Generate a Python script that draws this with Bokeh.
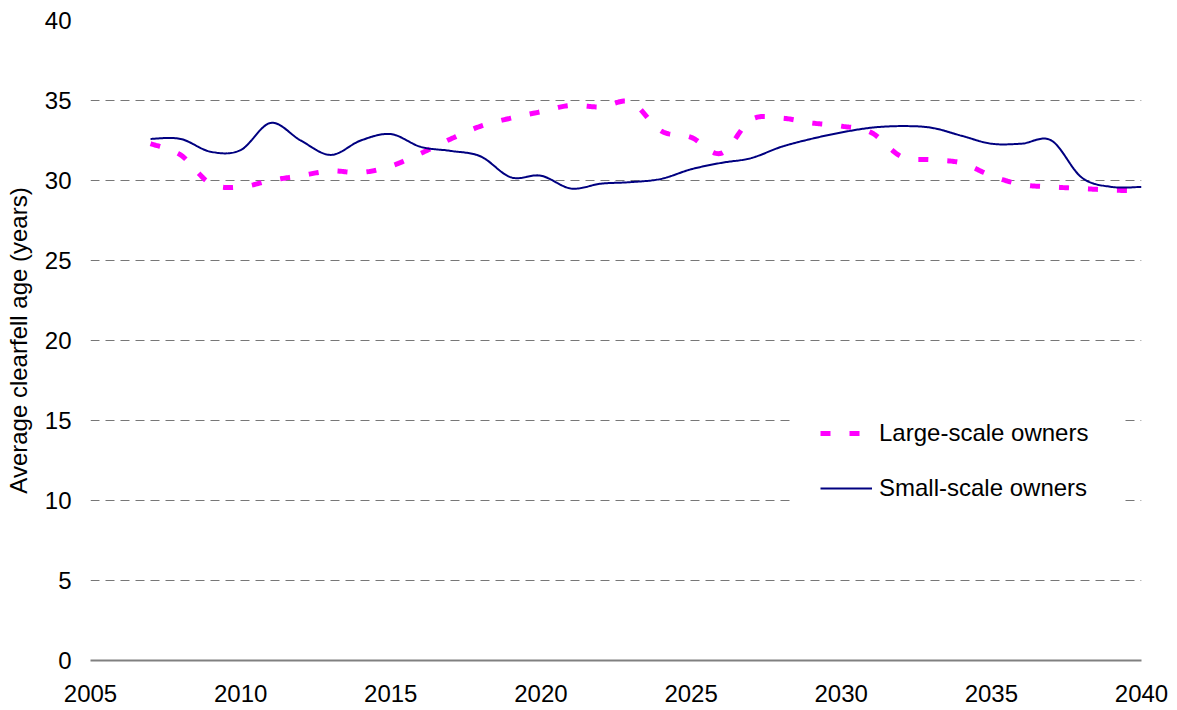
import numpy as np
from bokeh.plotting import figure
from bokeh.models import Range1d, FixedTicker, Legend, LegendItem, BoxAnnotation
from bokeh.embed import file_html
from bokeh.resources import INLINE

years = list(range(2007, 2041))
large_scale = [32.3, 31.6, 29.8, 29.6, 30.0, 30.3, 30.6, 30.5, 30.9, 31.7,
               32.6, 33.4, 33.9, 34.3, 34.7, 34.6, 34.9, 33.1, 32.7, 31.7,
               33.8, 33.9, 33.6, 33.4, 33.0, 31.5, 31.3, 31.1, 30.3, 29.75,
               29.6, 29.5, 29.4, 29.35]
small_scale = [32.6, 32.6, 31.8, 31.9, 33.6, 32.5, 31.6, 32.5, 32.9, 32.1,
               31.85, 31.5, 30.2, 30.3, 29.5, 29.8, 29.9, 30.1, 30.7, 31.1,
               31.4, 32.1, 32.6, 33.0, 33.3, 33.4, 33.3, 32.8, 32.3, 32.3,
               32.5, 30.2, 29.6, 29.6]
x_ticks = [2005, 2010, 2015, 2020, 2025, 2030, 2035, 2040]
y_ticks = [0, 5, 10, 15, 20, 25, 30, 35, 40]

FONT = "Liberation Sans"
FS = "24px"


def smooth(xs, ys, n=24):
    """Catmull-Rom rendering of a smoothed line (like a spreadsheet's smooth line)."""
    xs = np.asarray(xs, float)
    ys = np.asarray(ys, float)
    px = np.concatenate([[xs[0]], xs, [xs[-1]]])
    py = np.concatenate([[ys[0]], ys, [ys[-1]]])
    ox, oy = [], []
    t = np.linspace(0, 1, n, endpoint=False)
    for i in range(1, len(px) - 2):
        for arr, out in ((px, ox), (py, oy)):
            p0, p1, p2, p3 = arr[i - 1], arr[i], arr[i + 1], arr[i + 2]
            out.extend(0.5 * ((2 * p1) + (-p0 + p2) * t
                              + (2 * p0 - 5 * p1 + 4 * p2 - p3) * t ** 2
                              + (-p0 + 3 * p1 - 3 * p2 + p3) * t ** 3))
    ox.append(xs[-1])
    oy.append(ys[-1])
    return ox, oy


p = figure(width=1172, height=705, output_backend="svg", toolbar_location=None,
           x_range=Range1d(2005, 2040), y_range=Range1d(0, 40),
           min_border_left=90, min_border_right=31, min_border_top=20,
           min_border_bottom=45)
p.outline_line_color = None
p.background_fill_color = "white"
p.border_fill_color = "white"

lx, ly = smooth(years, large_scale)
sx, sy = smooth(years, small_scale)
r_large = p.line(lx, ly, line_color="#FF00FF", line_width=5, line_dash="10 19")
r_small = p.line(sx, sy, line_color="#000080", line_width=2)

p.xgrid.grid_line_color = None
p.ygrid.grid_line_color = "#777777"
p.ygrid.grid_line_dash = "9 6"
p.ygrid.grid_line_width = 1
p.ygrid.ticker = FixedTicker(ticks=y_ticks)

for ax in (p.xaxis, p.yaxis):
    ax.major_tick_line_color = None
    ax.minor_tick_line_color = None
    ax.major_tick_out = 0
    ax.major_tick_in = 0
    ax.minor_tick_out = 0
    ax.minor_tick_in = 0
    ax.major_label_text_font = FONT
    ax.major_label_text_font_size = FS
    ax.major_label_text_color = "black"

p.xaxis.ticker = FixedTicker(ticks=x_ticks)
p.xaxis.axis_line_color = "#808080"
p.xaxis.axis_line_width = 2
p.xaxis.major_label_standoff = 24

p.yaxis.ticker = FixedTicker(ticks=y_ticks)
p.yaxis.axis_line_color = None
p.yaxis.major_label_standoff = 19
p.yaxis.axis_label = "Average clearfell age (years)"
p.yaxis.axis_label_text_font = FONT
p.yaxis.axis_label_text_font_size = FS
p.yaxis.axis_label_text_font_style = "normal"
p.yaxis.axis_label_text_color = "black"
p.yaxis.axis_label_standoff = 10

# white legend background area (hides the gridlines behind the legend)
p.add_layout(BoxAnnotation(left=2028.35, right=2039.3, bottom=8.8, top=15.9,
                           fill_color="white", fill_alpha=1.0, line_color=None))

legend = Legend(items=[LegendItem(label="Large-scale owners", renderers=[r_large]),
                       LegendItem(label="Small-scale owners", renderers=[r_small])],
                location=(730, 157), padding=0, margin=0,
                spacing=25, glyph_width=52, glyph_height=30, label_height=30,
                label_standoff=7, border_line_color=None,
                background_fill_color="white", background_fill_alpha=1.0,
                label_text_font=FONT, label_text_font_size=FS,
                label_text_color="black")
p.add_layout(legend, "center")

open("out.html", "w").write(file_html(p, INLINE))
